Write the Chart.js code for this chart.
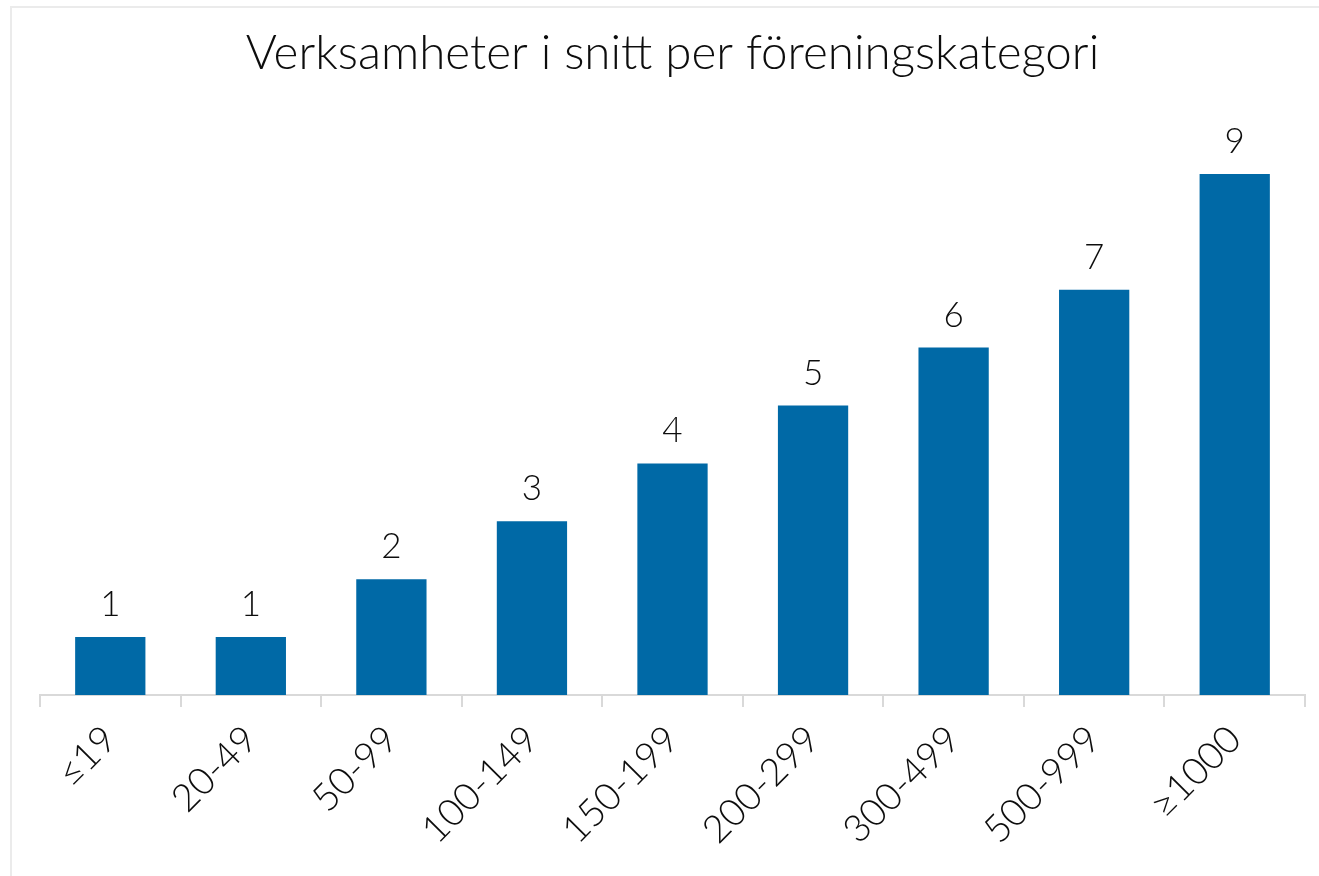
<!DOCTYPE html>
<html>
<head>
<meta charset="utf-8">
<script src="https://cdn.jsdelivr.net/npm/chart.js@4/dist/chart.umd.min.js"></script>
<style>
  html, body { margin: 0; padding: 0; background: #fff; }
  #wrap { width: 1319px; height: 876px; position: relative; }
</style>
</head>
<body>
<div id="wrap"><canvas id="chart" width="1319" height="876"></canvas></div>
<script>
const categories = ["≤19", "20-49", "50-99", "100-149", "150-199", "200-299", "300-499", "500-999", "≥1000"];
const values = [1, 1, 2, 3, 4, 5, 6, 7, 9];
const titleText = "Verksamheter i snitt per föreningskategori";

const FONT = "Lato, 'Open Sans', sans-serif";

// light frame round the chart, like the exported picture
const framePlugin = {
  id: "frame",
  beforeDraw(chart) {
    const ctx = chart.ctx;
    ctx.save();
    ctx.fillStyle = "#fff";
    ctx.fillRect(0, 0, chart.width, chart.height);
    ctx.strokeStyle = "#ebebeb";
    ctx.lineWidth = 2;
    ctx.strokeRect(11, 7, chart.width + 20, chart.height + 20);
    ctx.restore();
  },
};

// value labels above each bar
const valueLabels = {
  id: "valueLabels",
  afterDatasetsDraw(chart) {
    const ctx = chart.ctx;
    const meta = chart.getDatasetMeta(0);
    ctx.save();
    ctx.font = "300 35px " + FONT;
    ctx.fillStyle = "#0d0d0d";
    ctx.textAlign = "center";
    ctx.textBaseline = "alphabetic";
    meta.data.forEach((bar, i) => {
      ctx.fillText(String(values[i]), bar.x, bar.y - 21);
    });
    ctx.restore();
  },
};

new Chart(document.getElementById("chart"), {
  type: "bar",
  data: {
    labels: categories,
    datasets: [
      {
        data: values,
        backgroundColor: "#0069a6",
        borderWidth: 0,
        barPercentage: 0.5,
        categoryPercentage: 1,
      },
    ],
  },
  options: {
    responsive: false,
    animation: false,
    layout: { padding: { left: 40, right: 14, top: 0, bottom: 0 } },
    plugins: {
      legend: { display: false },
      tooltip: { enabled: false },
      title: {
        display: true,
        text: titleText,
        color: "#0d0d0d",
        font: { family: FONT, size: 47.5, weight: "300" },
        padding: { top: 25, bottom: 34 },
      },
    },
    scales: {
      y: {
        display: false,
        min: 0,
        max: 10,
      },
      x: {
        offset: true,
        afterFit(scale) {
          scale.height = 181;
        },
        border: { display: true, color: "#d9d9d9", width: 2 },
        grid: {
          offset: true,
          drawOnChartArea: false,
          drawTicks: true,
          tickLength: 12,
          color: "#d9d9d9",
          lineWidth: 2,
        },
        ticks: {
          color: "#0d0d0d",
          font: { family: FONT, size: 38, weight: "300" },
          minRotation: 45,
          maxRotation: 45,
          padding: 10,
        },
      },
    },
  },
  plugins: [framePlugin, valueLabels],
});
</script>
</body>
</html>
